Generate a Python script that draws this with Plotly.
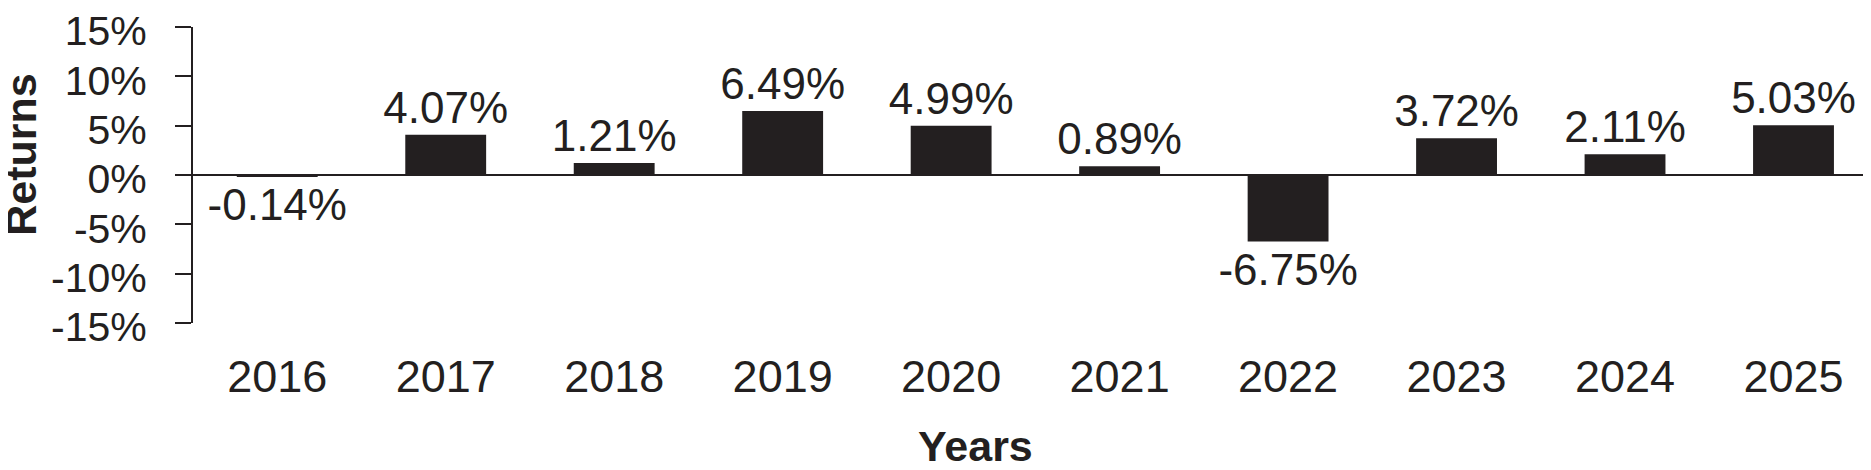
import plotly.graph_objects as go

years = ["2016", "2017", "2018", "2019", "2020", "2021", "2022", "2023", "2024", "2025"]
returns = [-0.14, 4.07, 1.21, 6.49, 4.99, 0.89, -6.75, 3.72, 2.11, 5.03]
y_ticks = [-15, -10, -5, 0, 5, 10, 15]
y_tick_text = ["-15%", "-10%", "-5%", "0%", "5%", "10%", "15%"]

ink = "#231f20"
font = "Liberation Sans, Arial, Helvetica, sans-serif"

# the page body has an 8px margin, so the figure is 8px smaller than the window
W, H = 1863, 462
L, T, B = 185, 14, 147
plot_h = H - T - B


def py(px):
    # pixel row in the figure -> paper y
    return (H - B - px) / plot_h


fig = go.Figure(go.Bar(
    x=years,
    y=returns,
    width=0.48,
    marker=dict(color=ink, line=dict(width=0)),
    text=[f"{v:.2f}%" for v in returns],
    textposition="outside",
    textangle=0,
    constraintext="none",
    cliponaxis=False,
    textfont=dict(family=font, size=44, color=ink),
    hoverinfo="skip",
))

fig.update_xaxes(
    type="category",
    range=[-0.5, 9.46],
    showline=False,
    showgrid=False,
    ticks="",
    tickfont=dict(family=font, size=45, color=ink),
    ticklabelstandoff=23,
)
fig.update_yaxes(
    range=[-15, 15],
    tickvals=y_ticks,
    ticktext=y_tick_text,
    showgrid=False,
    showline=True,
    linecolor=ink,
    linewidth=2,
    ticks="outside",
    ticklen=16,
    tickwidth=2,
    tickcolor=ink,
    zeroline=True,
    zerolinecolor=ink,
    zerolinewidth=2,
    tickfont=dict(family=font, size=41, color=ink),
    ticklabelstandoff=20,
    ticklabelshift=4,
    ticklabeloverflow="allow",
)

fig.add_annotation(
    text="<b>Returns</b>", textangle=-90, showarrow=False,
    xref="paper", yref="paper", x=0, y=py(144), xanchor="center", yanchor="middle",
    xshift=13 - L, font=dict(family=font, size=43, color=ink),
)
fig.add_annotation(
    text="<b>Years</b>", showarrow=False,
    xref="paper", yref="paper", x=(967 - L) / (W - L), y=py(440),
    xanchor="center", yanchor="middle",
    font=dict(family=font, size=43, color=ink),
)

fig.update_layout(
    width=W, height=H,
    margin=dict(l=L, r=0, t=T, b=B, pad=0),
    plot_bgcolor="white", paper_bgcolor="white",
    showlegend=False,
    font=dict(family=font, color=ink),
)

fig.write_html("out.html")
